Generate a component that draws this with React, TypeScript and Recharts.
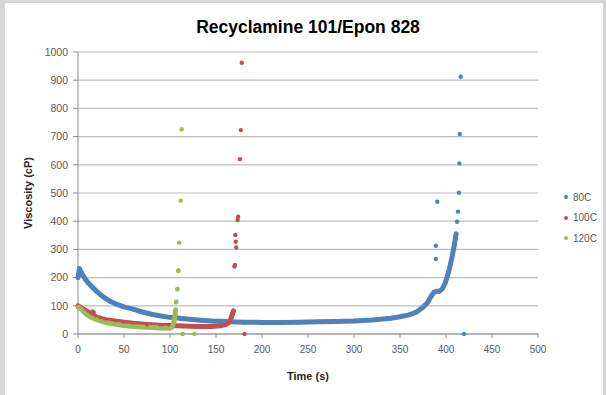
import React from "react";
import { ComposedChart, Scatter, Line, XAxis, YAxis, CartesianGrid } from "recharts";

// ---- data ----
const xTicks = [0, 50, 100, 150, 200, 250, 300, 350, 400, 450, 500];
const yTicks = [0, 100, 200, 300, 400, 500, 600, 700, 800, 900, 1000];

// 80C continuous curve
const c80T = [0, 0.5, 1.5, 3, 5, 8, 11, 15, 20, 25, 30, 35, 40, 50, 60, 70, 80, 90, 100, 115, 130, 145, 160, 180, 200, 220, 240, 260, 280, 300, 320, 340, 350, 360, 368, 375, 380, 384, 387, 390, 393, 396, 399, 401, 403, 405, 407, 408, 409, 410, 411];
const c80V = [200, 210, 232, 222, 210, 195, 182, 168, 152, 138, 126, 116, 108, 96, 88, 78, 70, 64, 59, 54, 50, 46, 44, 42, 41, 41, 42, 43, 44, 46, 50, 56, 61, 68, 78, 95, 112, 135, 148, 152, 152, 160, 180, 200, 222, 250, 280, 298, 315, 335, 355];
// 80C isolated points
const p80T = [412, 413, 414, 414.5, 415, 416, 389, 389, 390.6, 419.5];
const p80V = [398, 434, 501, 605, 709, 912, 313, 266, 469, 0];

// 100C continuous curve
const c100T = [0, 2, 5, 8, 11, 14, 17, 20, 25, 30, 40, 50, 60, 75, 90, 100, 115, 130, 145, 155, 160, 163, 165, 166, 167, 168, 169];
const c100V = [100, 96, 90, 84, 78, 72, 66, 60, 55, 51, 46, 42, 38, 34, 31, 30, 28, 27, 27, 29, 33, 38, 45, 52, 62, 72, 82];
// 100C isolated points
const p100T = [16, 17, 170, 170.5, 171, 171.5, 172, 173.5, 174, 176, 177, 178, 181];
const p100V = [80, 76, 239, 245, 351, 327, 307, 404, 416, 620, 723, 962, 0];

// 120C continuous curve
const c120T = [0, 2, 4, 6, 8, 10, 13, 16, 20, 25, 30, 40, 50, 60, 70, 80, 90, 100, 102, 103, 104, 105, 105.5, 106];
const c120V = [96, 92, 88, 80, 74, 68, 62, 57, 52, 46, 41, 35, 30, 27, 25, 23, 21, 20, 24, 30, 40, 55, 70, 85];
// 120C isolated points
const p120T = [106.5, 107, 108, 108.2, 109, 109.2, 110, 111.6, 112.7, 113.7, 126.5];
const p120V = [112, 115, 158, 160, 223, 226, 324, 473, 726, 0, 0];

const seriesNames = ["80C", "100C", "120C"];
const seriesColors = ["#4F81BD", "#C0504D", "#9BBB59"];

const zip = (t: number[], v: number[]) => t.map((x, i) => ({ x, y: v[i] }));

const curves = [zip(c80T, c80V), zip(c100T, c100V), zip(c120T, c120V)];
const points = [zip(p80T, p80V), zip(p100T, p100V), zip(p120T, p120V)];

const FONT = "'Liberation Sans', Arial, sans-serif";

const makeDot = (color: string) => (props: any) => {
  const { cx, cy } = props;
  if (cx == null || cy == null) return <g />;
  return <circle cx={cx} cy={cy} r={2.2} fill={color} />;
};

export default function App() {
  return (
    <div
      style={{
        position: "fixed",
        left: 0,
        top: 0,
        width: 606,
        height: 395,
        background: "#d6d6d6",
        overflow: "hidden",
      }}
    >
      <div
        style={{
          position: "absolute",
          left: 5,
          top: 3,
          width: 598,
          height: 392,
          background: "#ffffff",
        }}
      />
      <div
        style={{
          position: "absolute",
          left: 0,
          top: 17,
          width: 616,
          textAlign: "center",
          fontFamily: FONT,
          fontWeight: "bold",
          fontSize: 17.5,
          color: "#000",
        }}
      >
        Recyclamine 101/Epon 828
      </div>
      <div style={{ position: "absolute", left: 0, top: 0 }}>
        <ComposedChart
          width={606}
          height={395}
          margin={{ top: 52, right: 68, bottom: 11, left: 18 }}
        >
          <CartesianGrid horizontal vertical={false} stroke="#bdbdbd" strokeWidth={1.2} />
          <XAxis
            type="number"
            dataKey="x"
            domain={[0, 500]}
            ticks={xTicks}
            interval={0}
            height={50}
            stroke="#8c8c8c"
            tickSize={4}
            tickMargin={8}
            allowDuplicatedCategory={false}
            tick={{ fill: "#595959", fontSize: 10, fontFamily: FONT }}
            label={{
              value: "Time (s)",
              position: "insideBottom",
              offset: 4,
              style: { fontFamily: FONT, fontSize: 11, fontWeight: "bold", fill: "#262626" },
            }}
          />
          <YAxis
            type="number"
            dataKey="y"
            domain={[0, 1000]}
            ticks={yTicks}
            interval={0}
            width={60}
            stroke="#8c8c8c"
            tickSize={5}
            tickMargin={5}
            tick={{ fill: "#595959", fontSize: 10.5, fontFamily: FONT }}
            label={{
              value: "Viscosity (cP)",
              angle: -90,
              position: "center",
              dx: -20,
              style: { fontFamily: FONT, fontSize: 11, fontWeight: "bold", fill: "#262626" },
            }}
          />
          {seriesNames.map((n, i) => [
            <Line
              key={n + "c"}
              name={n}
              data={curves[i]}
              dataKey="y"
              type="linear"
              stroke={seriesColors[i]}
              strokeWidth={5}
              strokeLinecap="round"
              strokeLinejoin="round"
              dot={makeDot(seriesColors[i])}
              activeDot={false}
              isAnimationActive={false}
            />,
            <Scatter
              key={n + "p"}
              name={n + " pts"}
              data={points[i]}
              dataKey="y"
              fill={seriesColors[i]}
              shape={makeDot(seriesColors[i])}
              isAnimationActive={false}
            />,
          ])}
        </ComposedChart>
      </div>
      <div
        style={{
          position: "absolute",
          left: 564,
          top: 187,
          fontFamily: FONT,
          fontSize: 10,
          color: "#595959",
        }}
      >
        {seriesNames.map((n, i) => (
          <div key={n} style={{ display: "flex", alignItems: "center", height: 20.5 }}>
            <span
              style={{
                display: "inline-block",
                width: 4,
                height: 4,
                borderRadius: 2,
                background: seriesColors[i],
                marginRight: 5,
              }}
            />
            <span>{n}</span>
          </div>
        ))}
      </div>
    </div>
  );
}
